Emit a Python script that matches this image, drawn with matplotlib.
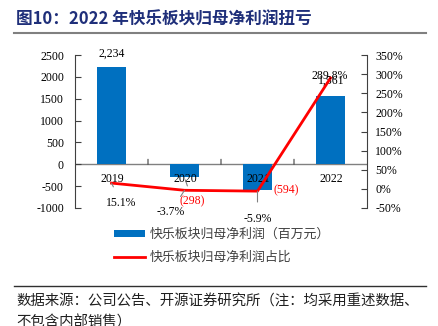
import matplotlib
matplotlib.use("Agg")
import matplotlib.pyplot as plt
from matplotlib.lines import Line2D
from matplotlib.patches import Patch

categories = ["2019", "2020", "2021", "2022"]
profit = [2234, -298, -594, 1561]
profit_labels = ["2,234", "(298)", "(594)", "1,561"]
share = [15.1, -3.7, -5.9, 289.8]
share_labels = ["15.1%", "-3.7%", "-5.9%", "289.8%"]
left_ticks = [-1000, -500, 0, 500, 1000, 1500, 2000, 2500]
right_ticks = [-50, 0, 50, 100, 150, 200, 250, 300, 350]

title = "图10：2022 年快乐板块归母净利润扭亏"
legend_bar = "快乐板块归母净利润（百万元）"
legend_line = "快乐板块归母净利润占比"
source1 = "数据来源：公司公告、开源证券研究所（注：均采用重述数据、"
source2 = "不包含内部销售）"

W, H = 439, 326
fig = plt.figure(figsize=(W / 100, H / 100), dpi=100)
CJK = ["Noto Sans CJK SC", "DejaVu Sans"]
SERIF = "Liberation Serif"

def fx(px):
    return px / W

def fy(py):
    return 1 - py / H

ax = fig.add_axes([fx(75), fy(208), fx(367) - fx(75), fy(55) - fy(208)])
ax2 = ax.twinx()

x = list(range(len(categories)))
bar_color = "#0070C0"
bars = ax.bar(x, profit, width=0.4, color=bar_color, zorder=2)
ax.set_xlim(-0.5, 3.5)
ax.set_ylim(-1000, 2500)
ax.set_yticks(left_ticks)
ax.set_yticklabels([str(t) for t in left_ticks], fontfamily=SERIF, fontsize=8.5)
ax.axhline(0, color="#808080", lw=1.0, zorder=1)
# category separators on zero line
for b in [0.5, 1.5, 2.5]:
    ax.annotate("", xy=(b, 0), xytext=(0, 5), textcoords="offset pixels",
                arrowprops=dict(arrowstyle="-", color="#404040", lw=0.8,
                                shrinkA=0, shrinkB=0))
ax.set_xticks([])
for s in ["top", "bottom"]:
    ax.spines[s].set_visible(False)
    ax2.spines[s].set_visible(False)
ax.spines["left"].set_color("#404040")
ax2.spines["right"].set_color("#404040")
ax2.spines["left"].set_visible(False)
ax.spines["right"].set_visible(False)
ax.tick_params(axis="y", direction="in", length=4, color="#404040", pad=8)

for i, c in enumerate(categories):
    ax.annotate(c, (i, 0), xytext=(1, -15), textcoords="offset pixels",
                ha="center", va="center", fontfamily=SERIF, fontsize=8.5, zorder=5)

ax2.set_ylim(-50, 350)
ax2.set_yticks(right_ticks)
ax2.set_yticklabels([f"{t}%" for t in right_ticks], fontfamily=SERIF, fontsize=8.5)
ax2.tick_params(axis="y", direction="in", length=4, color="#404040", pad=6)
line, = ax2.plot(x, share, color="#FF0000", lw=2, zorder=4)

# bar labels
bar_offsets = [(0, 13), (8, -24), (29, 0), (1, 15)]
for i, (v, lab) in enumerate(zip(profit, profit_labels)):
    col = "#FF0000" if v < 0 else "black"
    lead = i == 1
    ax.annotate(lab, (i, v), xytext=bar_offsets[i], textcoords="offset pixels",
                ha="center", va="center", fontfamily=SERIF, fontsize=8.5, color=col,
                arrowprops=dict(arrowstyle="-", color="#808080", lw=0.8,
                                shrinkA=5, shrinkB=2) if lead else None,
                zorder=5)

# share labels
share_offsets = [(10, -20), (-14, -22), (0, -28), (-1, 2)]
for i, (v, lab) in enumerate(zip(share, share_labels)):
    lead = i < 3
    ax2.annotate(lab, (i, v), xytext=share_offsets[i], textcoords="offset pixels",
                 ha="center", va="center", fontfamily=SERIF, fontsize=8.5, color="black",
                 arrowprops=dict(arrowstyle="-", color="#808080", lw=0.8,
                                 shrinkA=6, shrinkB=0) if lead else None,
                 zorder=6)

# title and rules
fig.text(fx(16), fy(20), title, fontfamily=CJK, fontweight="bold", fontsize=12,
         color="#1F2F7A", ha="left", va="center")
fig.add_artist(Line2D([fx(14), fx(426)], [fy(33), fy(33)], color="#808080", lw=1.5))
fig.add_artist(Line2D([fx(14), fx(426)], [fy(286), fy(286)], color="#303030", lw=1.0))

handles = [Patch(facecolor=bar_color, edgecolor="none"),
           Line2D([0], [0], color="#FF0000", lw=2)]
fig.legend(handles, [legend_bar, legend_line], loc="upper left",
           bbox_to_anchor=(fx(114), fy(228)), frameon=False,
           prop={"family": CJK, "size": 9.3}, labelcolor="#404040",
           handlelength=2.4, handleheight=0.45, handletextpad=0.4,
           labelspacing=0.75, borderpad=0, borderaxespad=0)

fig.text(fx(16), fy(302), source1, fontfamily=CJK, fontsize=10.4, color="#202020",
         ha="left", va="center")
fig.text(fx(16), fy(323), source2, fontfamily=CJK, fontsize=10.4, color="#202020",
         ha="left", va="center")

fig.savefig("out.png", dpi=100)
